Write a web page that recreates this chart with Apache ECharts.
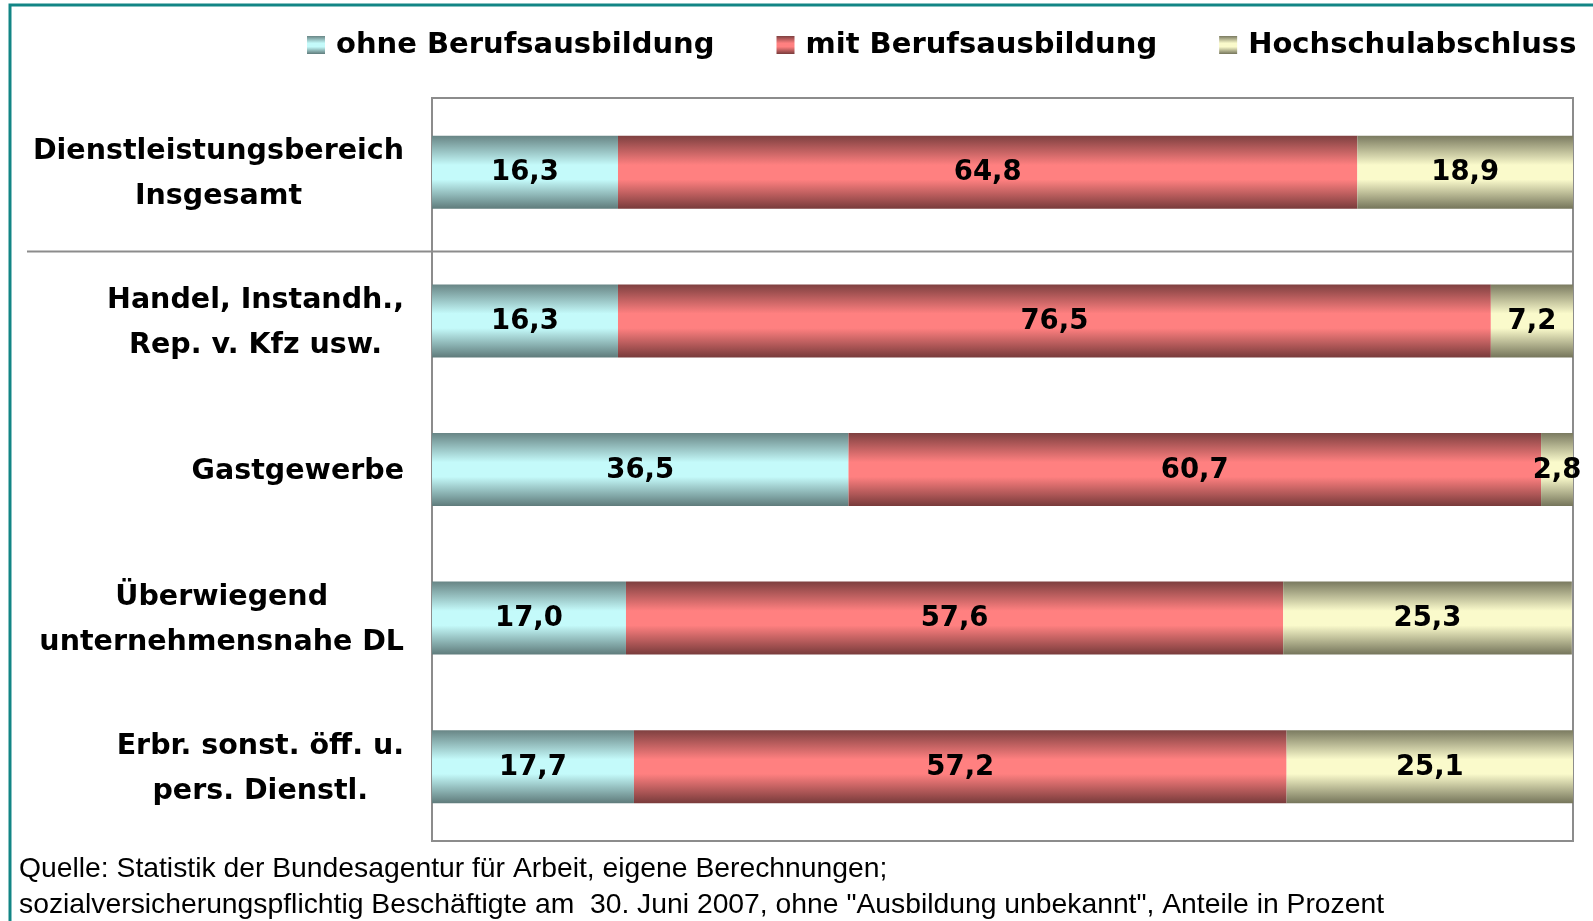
<!DOCTYPE html>
<html>
<head>
<meta charset="utf-8">
<script src="https://cdn.jsdelivr.net/npm/echarts@6/dist/echarts.min.js"></script>
<style>
html,body{margin:0;padding:0;background:#fff;}
#c{width:1593px;height:921px;}
</style>
</head>
<body>
<div id="c"></div>
<script>
var categories = ['Dienstleistungsbereich\nInsgesamt', 'Handel, Instandh.,\nRep. v. Kfz usw.', 'Gastgewerbe', 'Überwiegend\nunternehmensnahe DL', 'Erbr. sonst. öff. u.\npers. Dienstl.'];
var seriesNames = ['ohne Berufsausbildung', 'mit Berufsausbildung', 'Hochschulabschluss'];
var ohneValues = [16.3, 16.3, 36.5, 17.0, 17.7];
var mitValues = [64.8, 76.5, 60.7, 57.6, 57.2];
var hochValues = [18.9, 7.2, 2.8, 25.3, 25.1];
var footerLines = ['Quelle: Statistik der Bundesagentur für Arbeit, eigene Berechnungen;', 'sozialversicherungspflichtig Beschäftigte am  30. Juni 2007, ohne "Ausbildung unbekannt", Anteile in Prozent'];

function grad(dark, light, dark2) {
  return new echarts.graphic.LinearGradient(0, 0, 0, 1, [
    {offset: 0, color: dark},
    {offset: 0.4, color: light},
    {offset: 0.6, color: light},
    {offset: 1, color: dark2}
  ]);
}
var colors = [
  grad('#688585', '#c4fafa', '#5f7b7b'),
  grad('#7e4040', '#ff8080', '#783b3b'),
  grad('#7a7a60', '#fafacb', '#75755b')
];
var BOLD = 'DejaVu Sans';
function fmt(p) { return p.value.toFixed(1).replace('.', ','); }
function mkSeries(name, data, color) {
  return {
    name: name, type: 'bar', stack: 'total', data: data, barWidth: 73,
    itemStyle: {color: color},
    label: {show: true, position: 'inside', offset: [0, 1], formatter: fmt, color: '#000',
      fontFamily: BOLD, fontWeight: 'bold', fontSize: 27.5},
    emphasis: {disabled: true}
  };
}

var chart = echarts.init(document.getElementById('c'));
var option = {
  animation: false,
  backgroundColor: '#fff',
  title: {
    text: footerLines.join('\n'), left: 19, top: 851, padding: 0,
    textStyle: {fontFamily: 'Liberation Sans', fontWeight: 'normal', fontSize: 28.3, lineHeight: 36, color: '#000'}
  },
  legend: {
    left: 307, top: 30, padding: 0, itemGap: 62, itemWidth: 18, itemHeight: 18,
    icon: 'rect',
    data: seriesNames,
    textStyle: {fontFamily: BOLD, fontWeight: 'bold', fontSize: 29, lineHeight: 30, color: '#000', padding: [0, 0, 0, 6]}
  },
  grid: {left: 432, top: 98, right: 20, bottom: 80, show: true, borderColor: '#8c8c8c', borderWidth: 2, containLabel: false},
  xAxis: {type: 'value', min: 0, max: 100, show: false},
  yAxis: {
    type: 'category', inverse: true, data: categories,
    axisLine: {show: false}, axisTick: {show: false}, splitLine: {show: false},
    axisLabel: {
      margin: 28, color: '#000', padding: [4, 0, 0, 0],
      formatter: function (v) { return v.split('\n').map(function (l) { return '{c|' + l + '}'; }).join('\n'); },
      rich: {c: {align: 'center', fontFamily: BOLD, fontWeight: 'bold', fontSize: 28.5, lineHeight: 45, color: '#000'}}
    }
  },
  series: [
    mkSeries(seriesNames[0], ohneValues, colors[0]),
    mkSeries(seriesNames[1], mitValues, colors[1]),
    mkSeries(seriesNames[2], hochValues, colors[2])
  ]
};
chart.setOption(option);

var y0 = chart.convertToPixel({yAxisIndex: 0}, categories[0]);
var y1 = chart.convertToPixel({yAxisIndex: 0}, categories[1]);
var sepY = (y0 + y1) / 2 + 5;
chart.setOption({
  graphic: [
    {type: 'line', shape: {x1: 27, y1: sepY, x2: 1572, y2: sepY}, style: {stroke: '#8c8c8c', lineWidth: 2}, z: 10},
    {type: 'polyline', shape: {points: [[10, 921], [10, 5], [1593, 5]]}, style: {stroke: '#128585', lineWidth: 3, fill: null}, z: 10}
  ]
});
</script>
</body>
</html>
